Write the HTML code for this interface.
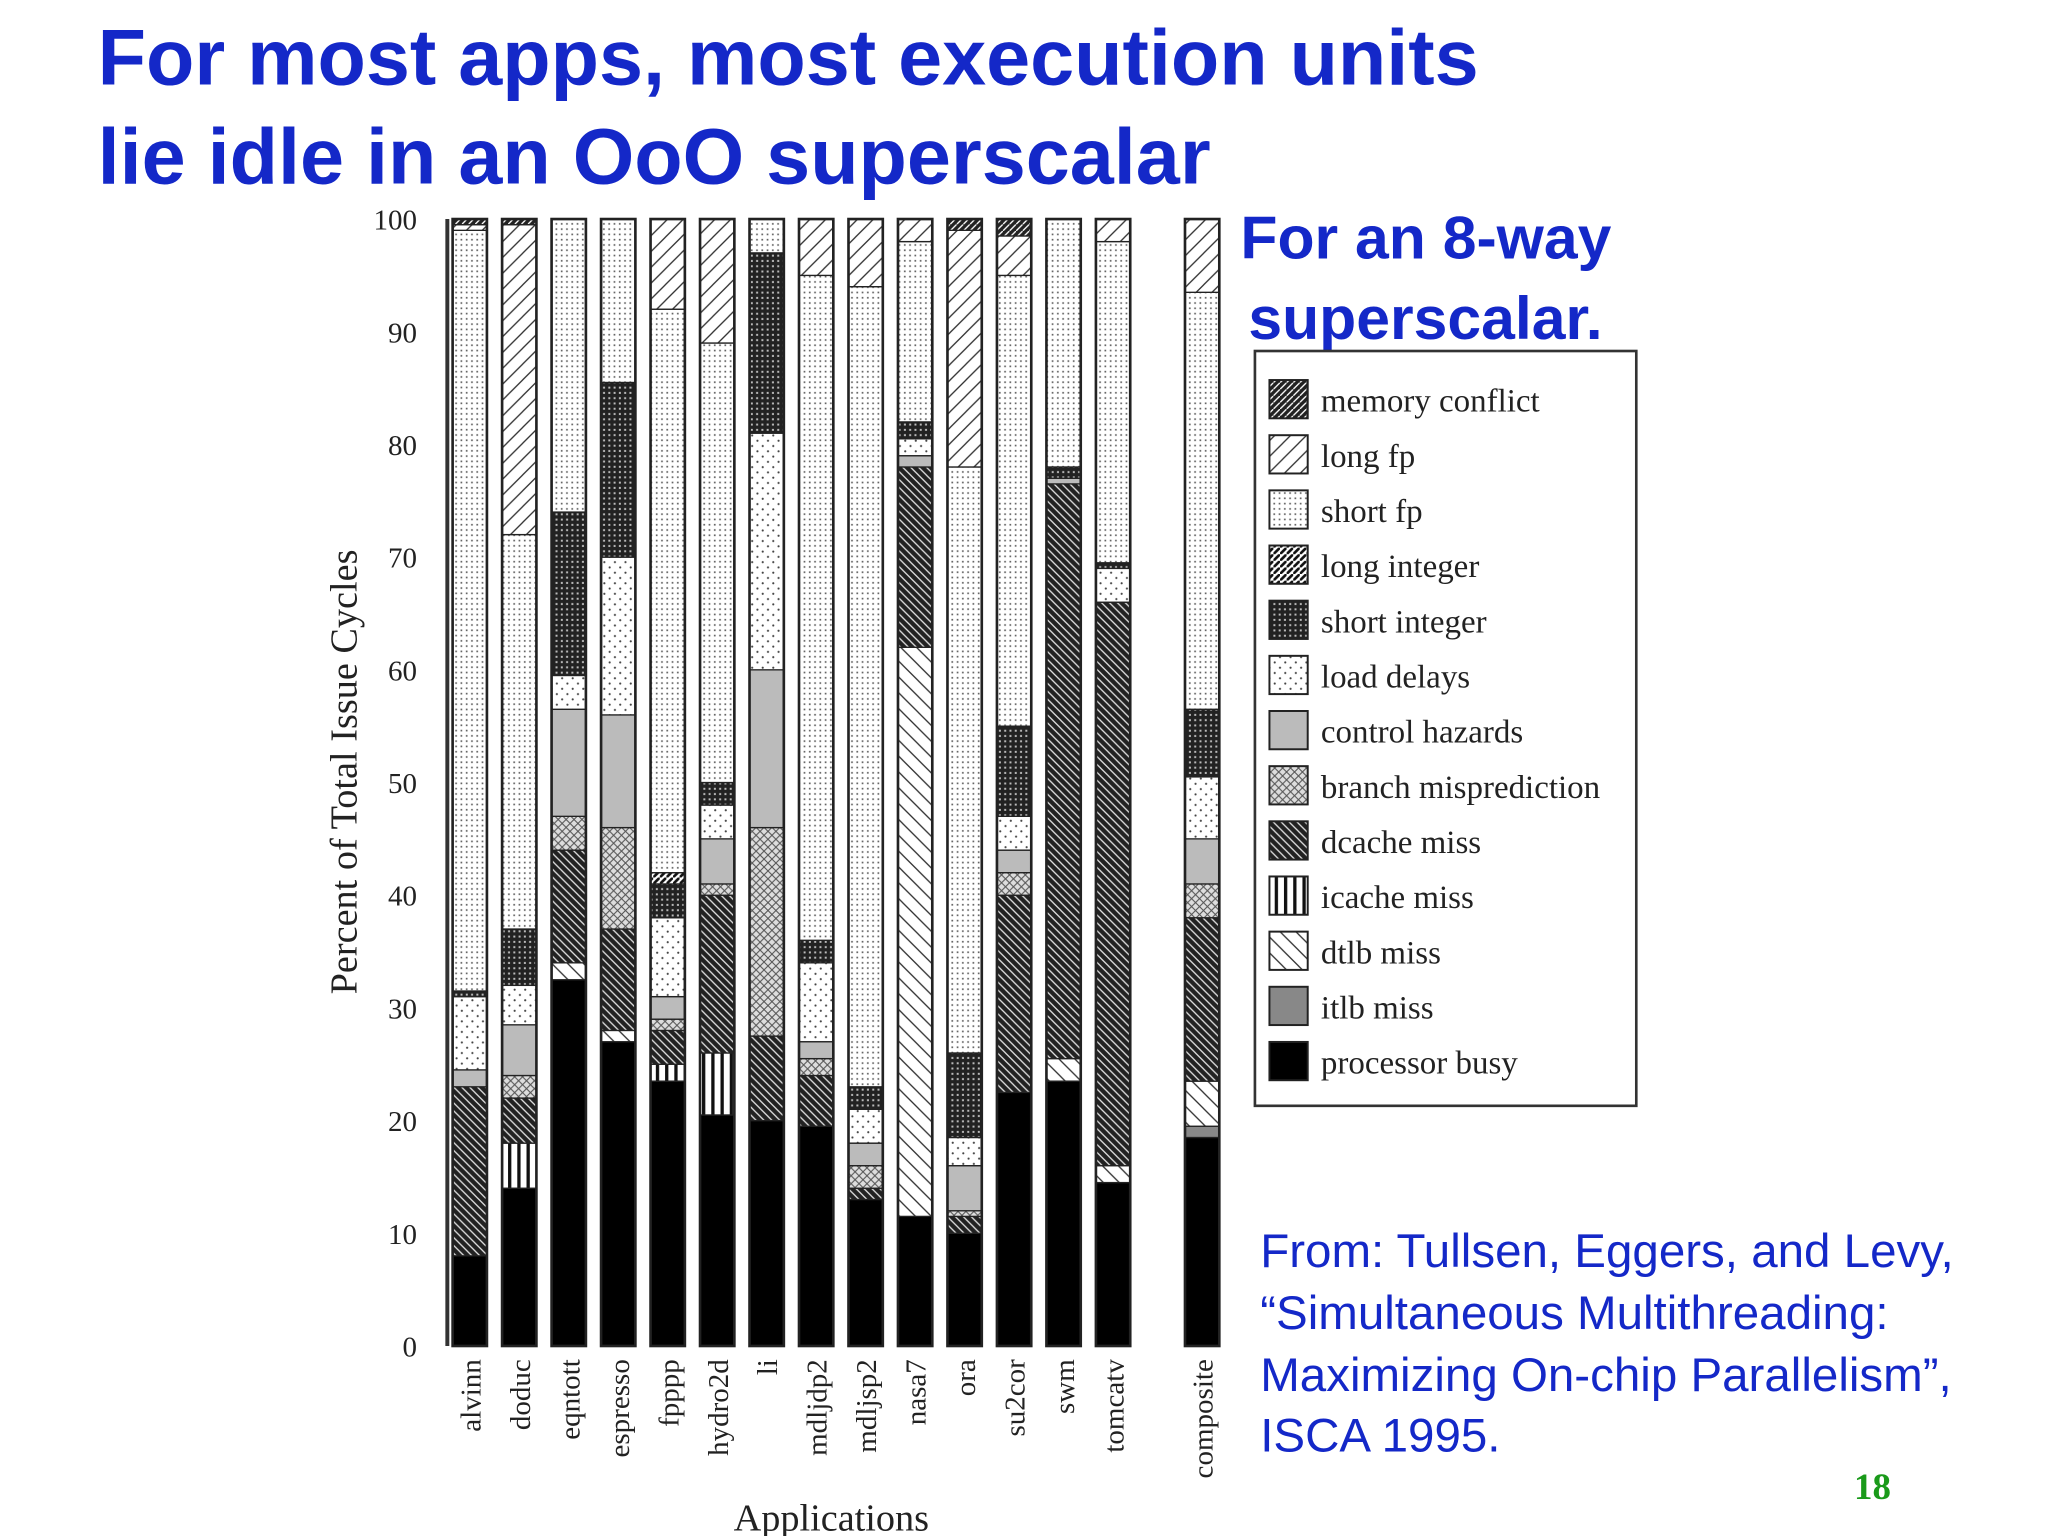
<!DOCTYPE html>
<html><head><meta charset="utf-8"><style>
html,body{margin:0;padding:0;background:#fff}
svg{display:block}
.t{font-family:"Liberation Sans",Arial,sans-serif;fill:#1428c8;font-weight:bold}
.s{font-family:"Liberation Serif",serif;fill:#222}
</style></head><body>
<svg id="chart" width="2048" height="1536" viewBox="0 0 1552 1164" xmlns="http://www.w3.org/2000/svg">
<defs>
<pattern id="p-mem" width="5" height="5" patternUnits="userSpaceOnUse"><rect width="5" height="5" fill="#222"/><path d="M0 5L5 0" stroke="#fff" stroke-width="1"/></pattern>
<pattern id="p-longfp" width="12" height="12" patternUnits="userSpaceOnUse"><rect width="12" height="12" fill="#fff"/><path d="M0 12L12 0M-3 3L3 -3M9 15L15 9" stroke="#333" stroke-width="1"/></pattern>
<pattern id="p-shortfp" width="4" height="4" patternUnits="userSpaceOnUse"><rect width="4" height="4" fill="#fff"/><rect x="1" y="1" width="1.3" height="1.3" fill="#666"/></pattern>
<pattern id="p-longint" width="5" height="5" patternUnits="userSpaceOnUse"><rect width="5" height="5" fill="#fff"/><path d="M0 5L5 0" stroke="#111" stroke-width="2"/></pattern>
<pattern id="p-shortint" width="4" height="4" patternUnits="userSpaceOnUse"><rect width="4" height="4" fill="#222"/><rect x="1" y="1" width="1.5" height="1.5" fill="#bbb"/></pattern>
<pattern id="p-load" width="8" height="8" patternUnits="userSpaceOnUse"><rect width="8" height="8" fill="#fff"/><circle cx="2" cy="2" r=".8" fill="#444"/><circle cx="6" cy="6" r=".8" fill="#444"/></pattern>
<pattern id="p-branch" width="6" height="6" patternUnits="userSpaceOnUse"><rect width="6" height="6" fill="#ddd"/><path d="M0 0L6 6M6 0L0 6" stroke="#555" stroke-width=".8"/></pattern>
<pattern id="p-dcache" width="6" height="6" patternUnits="userSpaceOnUse"><rect width="6" height="6" fill="#222"/><path d="M0 0L6 6M-3 3L3 9M3 -3L9 3" stroke="#ddd" stroke-width="1"/></pattern>
<pattern id="p-icache" width="7" height="7" patternUnits="userSpaceOnUse"><rect width="7" height="7" fill="#fff"/><rect x="0" width="2.5" height="7" fill="#111"/></pattern>
<pattern id="p-dtlb" width="12" height="12" patternUnits="userSpaceOnUse"><rect width="12" height="12" fill="#fff"/><path d="M0 0L12 12M-6 6L6 18M6 -6L18 6" stroke="#333" stroke-width="1"/></pattern>
</defs>
<text class="t" x="74" y="64" font-size="60">For most apps, most execution units</text>
<text class="t" x="74" y="139" font-size="60">lie idle in an OoO superscalar</text>
<text class="t" x="940" y="196" font-size="46">For an 8-way</text>
<text class="t" x="946" y="257" font-size="46">superscalar.</text>
<g id="yaxis"></g>
<g id="bars"></g>
<g id="xlabels"></g>
<text class="s" x="0" y="0" font-size="29" text-anchor="middle" transform="translate(270,585) rotate(-90)">Percent of Total Issue Cycles</text>
<text class="s" x="630" y="1160" font-size="29" text-anchor="middle">Applications</text>
<g id="legend">
<rect x="951" y="266" width="289" height="572" fill="#fff" stroke="#333" stroke-width="2"/>
</g>
<g font-family="Liberation Sans,Arial,sans-serif" font-size="36" fill="#1428c8">
<text x="955" y="960">From: Tullsen, Eggers, and Levy,</text>
<text x="955" y="1007">“Simultaneous Multithreading:</text>
<text x="955" y="1054">Maximizing On-chip Parallelism”,</text>
<text x="955" y="1100">ISCA 1995.</text>
</g>
<text x="1405" y="1136" font-family="Liberation Serif,serif" font-weight="bold" font-size="28" fill="#1a9a1a">18</text>
</svg>
<script>
const apps=["alvinn","doduc","eqntott","espresso","fpppp","hydro2d","li","mdljdp2","mdljsp2","nasa7","ora","su2cor","swm","tomcatv","composite"];
const seriesNames=["processor busy","itlb miss","dtlb miss","icache miss","dcache miss","branch misprediction","control hazards","load delays","short integer","long integer","short fp","long fp","memory conflict"];
const busy=[8,14,32.5,27,23.5,20.5,20,19.5,13,11.5,10,22.5,23.5,14.5,18.5];
const itlb=[0,0,0,0,0,0,0,0,0,0,0,0,0,0,1];
const dtlb=[0,0,1.5,1,0,0,0,0,0,50.5,0,0,2,1.5,4];
const icache=[0,4,0,0,1.5,5.5,0,0,0,0,0,0,0,0,0];
const dcache=[15,4,10,9,3,14,7.5,4.5,1,16,1.5,17.5,51,50,14.5];
const branch=[0,2,3,9,1,1,18.5,1.5,2,0,0.5,2,0,0,3];
const control=[1.5,4.5,9.5,10,2,4,14,1.5,2,1,4,2,0.5,0,4];
const loadDelays=[6.5,3.5,3,14,7,3,21,7,3,1.5,2.5,3,0,3,5.5];
const shortInt=[0.5,5,14.5,15.5,3,2,16,2,2,1.5,7.5,8,1,0.5,6];
const longInt=[0,0,0,0,1,0,0,0,0,0,0,0,0,0,0];
const shortFp=[67.5,35,26,14.5,50,39,3,59,71,16,52,40,22,28.5,37];
const longFp=[0.5,27.5,0,0,8,11,0,5,6,2,21,3.5,0,2,6.5];
const memConflict=[0.5,0.5,0,0,0,0,0,0,0,0,1,1.5,0,0,0];
const yTicks=[0,10,20,30,40,50,60,70,80,90,100];
const series=[busy,itlb,dtlb,icache,dcache,branch,control,loadDelays,shortInt,longInt,shortFp,longFp,memConflict];
const fills=["#000","#888","url(#p-dtlb)","url(#p-icache)","url(#p-dcache)","url(#p-branch)","#bbb","url(#p-load)","url(#p-shortint)","url(#p-longint)","url(#p-shortfp)","url(#p-longfp)","url(#p-mem)"];
const NS="http://www.w3.org/2000/svg";
const y=v=>1020-v*8.54;
const xb=i=>i<14?343+i*37.5:898;
const BW=26;
function mk(t,a,p){const e=document.createElementNS(NS,t);for(const k in a)e.setAttribute(k,a[k]);p.appendChild(e);return e;}
const ya=document.getElementById('yaxis');
const axl=mk('line',{x1:339,x2:339,y1:y(0),y2:y(100),stroke:'#333','stroke-width':3},ya);


yTicks.forEach(v=>{const t=mk('text',{x:316,y:y(v)+8,'text-anchor':'end','font-size':22,class:'s'},ya);t.textContent=v;

});
const bg=document.getElementById('bars'),xl=document.getElementById('xlabels');
apps.forEach((a,i)=>{let c=0;
 const g=mk('g',{},bg);
 
 
 series.forEach((s,k)=>{const v=s[i];if(!v)return;
  const r=mk('rect',{x:xb(i),y:y(c+v),width:BW,height:v*8.54,fill:fills[k],stroke:'#222','stroke-width':1},g);
  
  
  c+=v;});
 mk('rect',{x:xb(i),y:y(100),width:BW,height:100*8.54,fill:'none',stroke:'#222','stroke-width':2},g);
 const t=mk('text',{x:0,y:0,'text-anchor':'end','font-size':22,class:'s',transform:`translate(${xb(i)+BW/2+8},1030) rotate(-90)`},xl);
 t.textContent=a;
 
 
});
const lg=document.getElementById('legend');
const order=[12,11,10,9,8,7,6,5,4,3,2,1,0];
order.forEach((k,j)=>{const yy=288+j*41.8;
 const r=mk('rect',{x:962,y:yy,width:29,height:29,fill:fills[k],stroke:'#222','stroke-width':1.5},lg);
 
 
 const t=mk('text',{x:1001,y:yy+24,'font-size':25,class:'s'},lg);t.textContent=seriesNames[k];
 
 
});
</script>
</body></html>
